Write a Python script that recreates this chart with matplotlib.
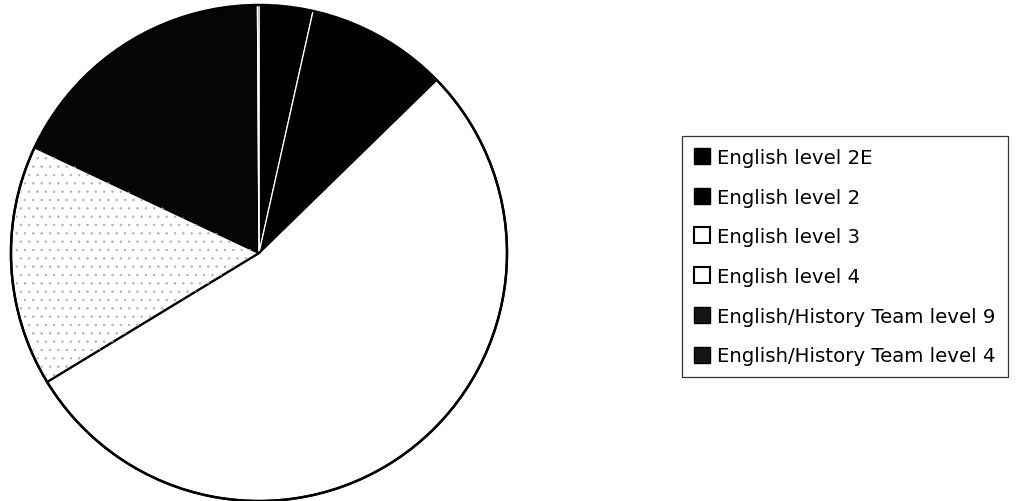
import matplotlib
matplotlib.use('Agg')
import matplotlib.pyplot as plt
from matplotlib.patches import Wedge, Circle
from matplotlib.lines import Line2D

# slice sizes (share of the circle, %)
labels = ['English level 2E', 'English level 2', 'English level 3', 'English level 4',
          'English/History Team level 9', 'English/History Team level 4']
values = [3.5, 9.2, 53.6, 15.7, 17.9, 0.1]
fills = ['black', 'black', 'white', 'white', '#050505', '#050505']

fig = plt.figure(figsize=(10.19, 5.02), dpi=100)
ax = fig.add_axes([0.0083, -0.005, 0.4917, 0.998])

wedges, _ = ax.pie(values, colors=fills, startangle=90, counterclock=False, radius=1,
                   wedgeprops=dict(linewidth=1.2))
for w, c in zip(wedges, fills):
    if c == 'white':
        w.set_edgecolor('black')
        w.set_linewidth(1.6)
    else:
        w.set_edgecolor('white')
        w.set_linewidth(0.9)
        w.set_zorder(w.get_zorder() - 0.1)

# stipple on the level 4 slice
w4 = wedges[3]
plt.rcParams['hatch.linewidth'] = 0.5
ax.add_patch(Wedge((0, 0), 0.99, w4.theta1, w4.theta2, facecolor='none',
                   edgecolor='#b0b0b0', linewidth=0, hatch='..', zorder=w4.get_zorder() + 0.05))

ax.add_patch(Circle((0, 0), 1, fill=False, edgecolor='black', linewidth=1.8, zorder=5))
ax.set_xlim(-1.01, 1.01)
ax.set_ylim(-1.01, 1.01)
ax.set_aspect('equal')
ax.axis('off')

ms = 11
handles = [
    Line2D([], [], marker='s', linestyle='none', markersize=ms, markerfacecolor='black', markeredgecolor='black'),
    Line2D([], [], marker='s', linestyle='none', markersize=ms, markerfacecolor='black', markeredgecolor='black'),
    Line2D([], [], marker='s', linestyle='none', markersize=ms, markerfacecolor='white', markeredgecolor='black', markeredgewidth=1.5),
    Line2D([], [], marker='s', linestyle='none', markersize=ms, markerfacecolor='white', markeredgecolor='black', markeredgewidth=1.5),
    Line2D([], [], marker='s', linestyle='none', markersize=ms, markerfacecolor='#151515', markeredgecolor='black'),
    Line2D([], [], marker='s', linestyle='none', markersize=ms, markerfacecolor='#151515', markeredgecolor='black'),
]
leg = fig.legend(handles, labels, loc='upper left', bbox_to_anchor=(0.669, 0.727),
                 borderaxespad=0, fontsize=14.2, frameon=True, fancybox=False,
                 handlelength=0.85, handletextpad=0.35, labelspacing=1.05,
                 borderpad=0.6)
leg.get_frame().set_edgecolor('black')
leg.get_frame().set_linewidth(0.9)

fig.savefig('out.png', dpi=100)
